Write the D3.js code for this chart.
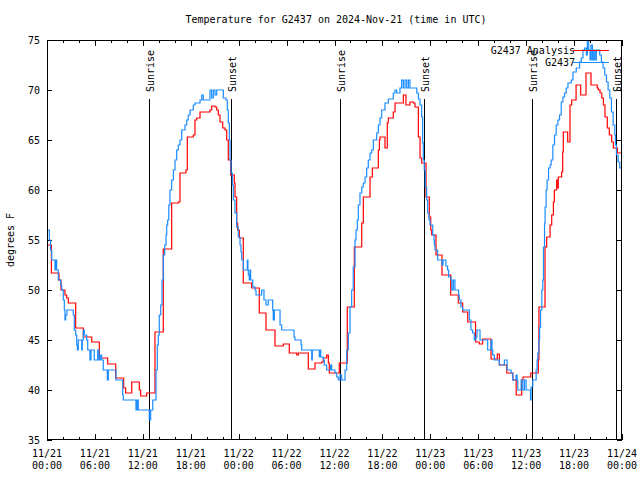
<!DOCTYPE html>
<html>
<head>
<meta charset="utf-8">
<script src="https://cdn.jsdelivr.net/npm/d3@7"></script>
<style>
body{margin:0;background:#fff;}
svg{display:block;}
text{font-family:"DejaVu Sans Mono","Liberation Mono",monospace;font-size:10px;fill:#000;}
</style>
</head>
<body>
<div id="chart"></div>
<script>
// ---- data (hours since 11/21 00:00 UTC, degrees F) ----
const titleText = "Temperature for G2437 on 2024-Nov-21 (time in UTC)";
const yLabel = "degrees F";
const seriesNames = ["G2437 Analysis", "G2437"];
const seriesColors = ["#ff0000", "#1a8cff"];

const yTicks = [35, 40, 45, 50, 55, 60, 65, 70, 75];
const xTickHours = [0, 6, 12, 18, 24, 30, 36, 42, 48, 54, 60, 66, 72];
const xTickDates = ["11/21","11/21","11/21","11/21","11/22","11/22","11/22","11/22","11/23","11/23","11/23","11/23","11/24"];
const xTickTimes = ["00:00","06:00","12:00","18:00","00:00","06:00","12:00","18:00","00:00","06:00","12:00","18:00","00:00"];

const sunriseHours = [12.81, 36.73, 60.77];
const sunsetHours = [23.08, 47.17, 71.25];

// G2437 Analysis (red)
const analysis = [[0,54.5],[0.55,51.7],[1.5,51],[1.75,50],[2.25,49.5],[2.46,49.2],[2.67,48.7],[3.59,46.2],[4.55,45.3],[5.6,44.8],[6.55,43.2],[7.6,42.6],[8.6,41.2],[9.6,40.2],[9.85,39.7],[10.61,40.8],[11.56,40],[11.73,39.4],[12.48,39.7],[13.52,45.8],[14.56,54.1],[15.61,58.7],[16.44,58.8],[16.65,61.7],[17.4,62],[17.57,65.3],[18.32,65.5],[18.53,67],[18.75,67.2],[19.16,67.8],[20.41,68],[20.62,68.4],[21.04,68.3],[21.25,68],[21.45,67.5],[21.66,66.8],[22.0,66.2],[22.29,66],[22.5,65],[22.7,63],[23.0,61.5],[23.45,60.7],[23.54,59.3],[23.75,56.7],[23.87,56],[24.08,55.2],[24.58,50.7],[25.63,50.2],[26.58,47.7],[27.42,46],[28.55,44.4],[29.59,44.6],[30.34,43.7],[31.27,43.5],[31.47,43.7],[32.72,42.1],[33.56,42.7],[34.4,42.8],[34.6,43.2],[35.02,43.5],[35.23,42.7],[35.35,41.7],[36.6,42.7],[37.6,48.3],[38.48,54.3],[39.41,56.7],[39.61,59.3],[40.45,61.3],[40.74,62.2],[41.49,64],[41.62,65],[41.7,65.3],[42.32,64.2],[42.61,66.7],[42.74,67.2],[43.36,67.8],[43.58,68.7],[44.62,69.5],[44.95,68.5],[45.45,68.8],[45.87,68.7],[46.08,68.3],[46.5,65.3],[46.71,63.2],[46.92,62.7],[47.46,59.3],[47.87,57.3],[48.05,56],[48.17,55.5],[48.71,53.5],[49.46,51.5],[50.55,49.5],[51.5,48.7],[52.05,47.8],[52.68,46.8],[53.66,44.8],[54.13,44.6],[54.55,45.1],[55.6,43.1],[56.39,43.6],[56.64,42.5],[57.57,41.7],[58.33,41],[58.75,39.5],[59.44,41],[59.61,41.3],[60.57,41.7],[61.52,43],[61.6,48.3],[62.36,54.3],[62.57,55.3],[62.99,56.5],[63.2,57.5],[63.41,58.8],[63.53,60],[63.82,61],[63.98,60.2],[64.02,61.3],[64.44,61.8],[64.57,63.8],[64.65,65.8],[65.2,64.8],[65.49,68.5],[65.7,69],[66.25,70.5],[66.83,69.5],[67.49,71.7],[68.12,70.5],[68.9,70.2],[69.04,70],[69.25,69.7],[69.46,69.2],[69.67,68.5],[69.87,67.3],[70.16,66.2],[70.41,65.5],[70.71,64.8],[70.92,64.2],[71.43,63.7],[72,63.5]];

// G2437 observations (blue)
const observed = [[0,56],[0.29,55],[0.44,54],[0.59,53],[1.0,52],[1.13,53],[1.21,52],[1.41,51],[1.72,50.5],[1.84,50],[2.04,49],[2.17,48],[2.25,47],[2.34,47.5],[2.5,48],[3.29,47.5],[3.42,46],[3.59,45.5],[3.72,44.5],[3.8,44],[3.92,45],[4.35,44],[4.42,45],[4.55,46],[4.67,45.5],[4.97,45],[5.1,44],[5.38,43],[5.51,44],[5.92,43],[6.35,44],[6.51,43],[6.67,43.5],[6.85,43],[7.05,42],[7.55,41],[7.68,42],[8.64,41],[9.48,39.5],[9.55,39],[11.14,38],[11.27,39],[11.43,38],[12.81,37],[12.98,38],[13.24,39],[13.65,42],[13.81,44.5],[13.94,45.5],[14.06,47.5],[14.24,48.5],[14.4,51],[14.56,53.5],[14.74,54.5],[14.91,55.5],[14.99,56.5],[15.11,57],[15.25,58.5],[15.4,60],[15.61,61],[15.82,62],[16.03,63],[16.24,64],[16.44,64.5],[16.65,65],[16.87,66],[17.28,66.5],[17.49,67],[17.69,67.5],[17.91,68],[18.32,68.5],[18.53,68.7],[19.16,69],[19.37,69.5],[19.57,69],[20.41,70],[20.62,69.2],[20.83,70],[21.04,69.5],[21.25,70],[22.08,69.2],[22.41,69],[22.58,68],[22.7,66.7],[22.83,65],[22.92,63],[23.04,61.7],[23.21,60.5],[23.33,59],[23.54,57.7],[23.75,56.3],[23.95,55.3],[24.17,54.5],[24.29,53.8],[24.38,53],[24.59,52],[25.08,53],[25.16,52],[25.21,51.5],[25.33,51],[25.42,52],[25.5,51],[25.76,50.3],[26.05,50],[26.17,49.5],[26.88,50],[27.17,49],[27.42,48.5],[27.7,49],[28.26,48],[28.33,47],[28.47,48],[29.18,46.5],[29.39,46],[30.93,45.3],[31.05,45],[31.81,44.5],[31.89,44],[33.15,43],[33.22,44],[34.1,43.3],[34.18,44],[34.27,43.3],[34.6,43],[34.72,42.5],[35.02,42],[35.52,42.5],[35.65,42],[36.06,41.7],[36.28,41.3],[36.48,41],[36.69,41.5],[36.9,41],[37.32,42],[37.53,44],[37.73,45.7],[37.94,48.3],[38.15,50],[38.35,52.3],[38.57,55],[38.69,56],[38.86,57],[38.98,58.5],[39.19,59.7],[39.41,60.3],[39.61,60.7],[39.82,61.3],[40.03,62.2],[40.23,63],[40.45,63.7],[40.66,64],[40.86,65],[41.28,65.7],[41.49,66.5],[41.7,67.2],[41.91,68],[42.32,68.7],[42.74,69.1],[43.36,69.7],[43.58,70],[43.79,69.7],[44.2,70.2],[44.41,71],[44.62,70.2],[44.83,71],[45.04,70.2],[45.25,71],[45.45,70.2],[46.3,69.7],[46.5,69.1],[46.71,68.5],[46.92,67.3],[47.04,64.7],[47.12,63],[47.24,62],[47.37,60.3],[47.54,59],[47.67,57.7],[47.83,57],[47.96,56.5],[48.3,55.5],[48.46,55],[48.51,54.5],[48.58,54],[48.92,53],[49.47,52.5],[49.6,53],[49.95,52.4],[50.16,52],[50.29,51.3],[50.58,51],[50.7,50],[50.88,51],[51.08,50],[51.54,49.5],[51.62,49],[51.83,48.3],[52.04,48],[52.88,47],[53.08,46],[53.3,45.7],[53.51,45],[53.71,45.3],[53.84,46],[54.22,45],[55.18,44],[55.6,45],[55.72,44],[55.81,43.5],[56.02,43],[56.64,42.5],[57.27,43],[57.61,42],[58.11,41.7],[58.32,41],[58.73,41.5],[58.86,41],[58.95,40],[59.37,41],[59.57,40],[59.78,41],[59.99,40],[60.54,39],[60.61,40.3],[60.83,41],[61.25,42],[61.37,43],[61.46,43.7],[61.59,45],[61.68,46.3],[61.8,48],[61.96,50],[62.08,51],[62.17,54.3],[62.3,56.7],[62.37,58.3],[62.5,60],[62.62,61],[62.8,62.2],[63.0,62.5],[63.13,63],[63.34,64.5],[63.55,65.5],[63.76,66.5],[63.97,67],[64.18,67.5],[64.39,68.8],[64.6,69.3],[64.81,69.7],[65.02,70.2],[65.23,70.7],[65.65,71],[65.86,71.8],[66.27,72.2],[66.69,72.8],[66.9,73.2],[67.11,74],[67.32,74.2],[67.53,73.5],[67.66,75],[67.83,74],[68.0,73],[68.12,74.5],[68.29,73],[68.46,74],[68.62,73],[68.79,74],[69.21,73.5],[69.42,72.8],[69.63,72.2],[69.84,71.5],[70.05,70.8],[70.26,70],[70.47,69.2],[70.68,67.8],[70.89,66.5],[71.1,65.5],[71.18,64.5],[71.3,63.5],[71.51,62.8],[71.72,62.2],[72,62]];

// ---- layout ----
const W = 640, H = 480;
const L = 47, R = 622, T = 40, B = 440;

const svg = d3.select("#chart").append("svg").attr("width", W).attr("height", H);
svg.append("rect").attr("width", W).attr("height", H).attr("fill", "#fff");

const x = d3.scaleLinear().domain([0, 72]).range([L, R]);
const y = d3.scaleLinear().domain([35, 75]).range([B, T]);

svg.append("defs").append("clipPath").attr("id", "clip")
  .append("rect").attr("x", L).attr("y", T).attr("width", R - L).attr("height", B - T);

// title
svg.append("text").attr("x", 336).attr("y", 23).attr("text-anchor", "middle").text(titleText);
// y label
svg.append("text").attr("transform", "translate(14,240) rotate(-90)").attr("text-anchor", "middle").text(yLabel);

// axes: ticks
const minorHours = d3.range(0, 73, 2);
const g = svg.append("g").attr("stroke", "#000").attr("stroke-width", 1).attr("shape-rendering", "crispEdges");
minorHours.forEach(h => {
  const major = h % 6 === 0;
  const len = major ? 6 : 3;
  const xx = Math.round(x(h)) + 0.5;
  g.append("line").attr("x1", xx).attr("x2", xx).attr("y1", B).attr("y2", B - len);
  g.append("line").attr("x1", xx).attr("x2", xx).attr("y1", T).attr("y2", T + len);
});
yTicks.forEach(v => {
  const yy = Math.round(y(v)) + 0.5;
  g.append("line").attr("x1", L).attr("x2", L + 5).attr("y1", yy).attr("y2", yy);
  g.append("line").attr("x1", R).attr("x2", R - 5).attr("y1", yy).attr("y2", yy);
});

// tick labels
yTicks.forEach(v => {
  svg.append("text").attr("x", 40).attr("y", y(v)).attr("dy", "0.35em").attr("text-anchor", "end").text(v);
});
xTickHours.forEach((h, i) => {
  const t = svg.append("text").attr("text-anchor", "middle");
  t.append("tspan").attr("x", x(h)).attr("y", 457).text(xTickDates[i]);
  t.append("tspan").attr("x", x(h)).attr("y", 469).text(xTickTimes[i]);
});

// sunrise / sunset
const sunG = svg.append("g");
function sunMark(h, label) {
  const xx = Math.round(x(h)) + 0.5;
  sunG.append("line").attr("x1", xx).attr("x2", xx).attr("y1", 99).attr("y2", B)
    .attr("stroke", "#000").attr("stroke-width", 1).attr("shape-rendering", "crispEdges");
  sunG.append("text").attr("transform", `translate(${xx + 4},92) rotate(-90)`)
    .attr("text-anchor", "start").text(label);
}
sunriseHours.forEach(h => sunMark(h, "Sunrise"));
sunsetHours.forEach(h => sunMark(h, "Sunset"));

// data lines
const line = d3.line().x(d => x(d[0])).y(d => y(d[1])).curve(d3.curveStepAfter);
const plot = svg.append("g").attr("clip-path", "url(#clip)");
[analysis, observed].forEach((data, i) => {
  plot.append("path").datum(data).attr("d", line)
    .attr("fill", "none").attr("stroke", seriesColors[i]).attr("stroke-width", 1.2);
});

// legend
const legendY = [50, 62];
seriesNames.forEach((name, i) => {
  svg.append("text").attr("x", 575).attr("y", legendY[i]).attr("dy", "0.35em").attr("text-anchor", "end").text(name);
  svg.append("line").attr("x1", 573).attr("x2", 609).attr("y1", legendY[i] + 0.5).attr("y2", legendY[i] + 0.5)
    .attr("stroke", seriesColors[i]).attr("stroke-width", 1).attr("shape-rendering", "crispEdges");
});

// frame
svg.append("rect").attr("x", L + 0.5).attr("y", T + 0.5).attr("width", R - L - 1).attr("height", B - T - 1)
  .attr("fill", "none").attr("stroke", "#000").attr("stroke-width", 1).attr("shape-rendering", "crispEdges");
</script>
</body>
</html>
